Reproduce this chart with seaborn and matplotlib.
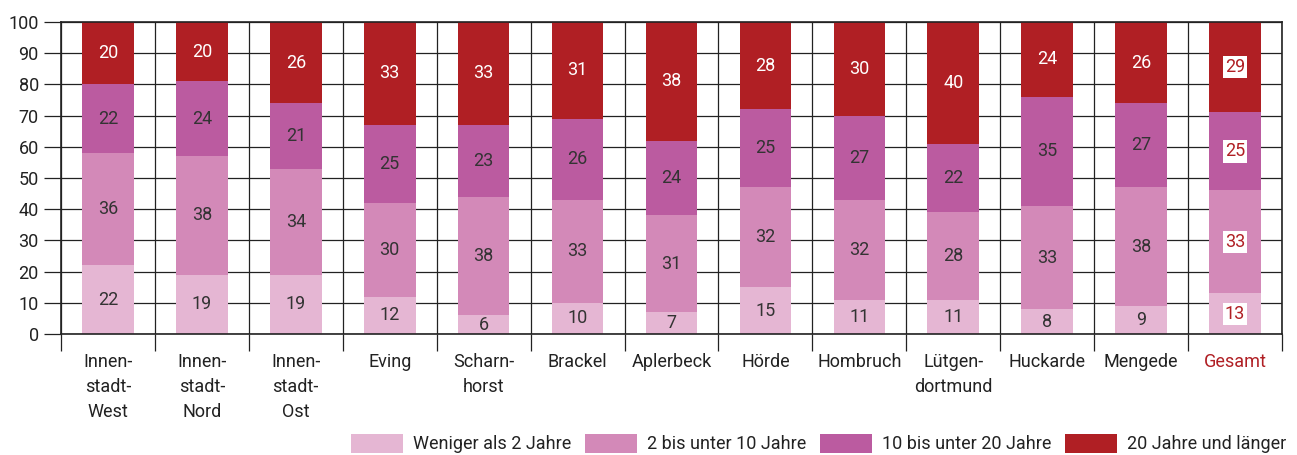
import matplotlib
matplotlib.use("Agg")
import matplotlib.pyplot as plt
import matplotlib.patches as mpatches
import numpy as np
import seaborn as sns

categories = ["Innenstadt-West", "Innenstadt-Nord", "Innenstadt-Ost", "Eving", "Scharnhorst",
              "Brackel", "Aplerbeck", "Hörde", "Hombruch", "Lütgendortmund", "Huckarde",
              "Mengede", "Gesamt"]
tick_labels = ["Innen-\nstadt-\nWest", "Innen-\nstadt-\nNord", "Innen-\nstadt-\nOst", "Eving",
               "Scharn-\nhorst", "Brackel", "Aplerbeck", "Hörde", "Hombruch", "Lütgen-\ndortmund",
               "Huckarde", "Mengede", "Gesamt"]
series_names = ["Weniger als 2 Jahre", "2 bis unter 10 Jahre", "10 bis unter 20 Jahre",
                "20 Jahre und länger"]
unter2 = [22, 19, 19, 12, 6, 10, 7, 15, 11, 11, 8, 9, 13]
bis10 = [36, 38, 34, 30, 38, 33, 31, 32, 32, 28, 33, 38, 33]
bis20 = [22, 24, 21, 25, 23, 26, 24, 25, 27, 22, 35, 27, 25]
ueber20 = [20, 20, 26, 33, 33, 31, 38, 28, 30, 40, 24, 26, 29]
colors = ["#e5b6d3", "#d389b8", "#bb5ba0", "#b01f24"]
text_colors = ["#333333", "#333333", "#333333", "white"]

sns.set_theme(style="white")
plt.rcParams["font.family"] = ["Roboto", "DejaVu Sans"]

fig = plt.figure(figsize=(12.97, 4.55), dpi=100)
ax = fig.add_axes([61 / 1297, 1 - 334 / 455, (1282 - 61) / 1297, (334 - 22) / 455])

layers = [unter2, bis10, bis20, ueber20]
cum = np.cumsum(np.array(layers, dtype=float), axis=0)

for i in reversed(range(4)):
    sns.barplot(x=categories, y=cum[i], color=colors[i], width=0.55, ax=ax,
                saturation=1, zorder=2, order=categories, linewidth=0, edgecolor="none")

ax.set_ylim(0, 100)
ax.set_xlim(-0.5, len(categories) - 0.5)
ax.set_axisbelow(True)

# segment labels
for j, cat in enumerate(categories):
    for i in range(4):
        lo = cum[i - 1][j] if i > 0 else 0
        hi = min(cum[i][j], 100)
        yc = (lo + hi) / 2
        val = layers[i][j]
        if cat == "Gesamt":
            ax.text(j, yc, str(val), ha="center", va="center", fontsize=13, color="#b01f24",
                    zorder=5, bbox=dict(facecolor="white", edgecolor="none", pad=1.5))
        else:
            ax.text(j, yc, str(val), ha="center", va="center", fontsize=13,
                    color=text_colors[i], zorder=5)

# grid and ticks
ax.set_yticks(range(0, 101, 10))
ax.yaxis.grid(True, color="#222222", linewidth=0.9)
ax.set_xticks(np.arange(len(categories)))
ax.set_xticklabels(tick_labels, fontsize=13, color="#222222", linespacing=1.5)
ax.set_xticks(np.arange(len(categories) + 1) - 0.5, minor=True)
ax.xaxis.grid(True, which="minor", color="#222222", linewidth=0.9)
ax.tick_params(axis="x", which="major", length=0, pad=14)
ax.tick_params(axis="x", which="minor", length=12, width=0.9, color="#222222", direction="out", bottom=True)
ax.tick_params(axis="y", length=12, width=0.9, color="#222222", labelsize=13, labelcolor="#222222", pad=4, left=True)
ax.get_xticklabels()[-1].set_color("#b01f24")
ax.set_xlabel("")
ax.set_ylabel("")
for s in ax.spines.values():
    s.set_color("#222222")
    s.set_linewidth(1.2)

handles = [mpatches.Patch(facecolor=c, edgecolor="none", label=n) for c, n in zip(colors, series_names)]
fig.legend(handles=handles, loc="lower right", bbox_to_anchor=(0.992, 0.004), ncol=4,
           frameon=False, fontsize=13, handlelength=2.9, handleheight=1.25,
           columnspacing=0.75, handletextpad=0.55, labelcolor="#222222",
           borderpad=0, borderaxespad=0)

fig.savefig("out.png", dpi=100)
